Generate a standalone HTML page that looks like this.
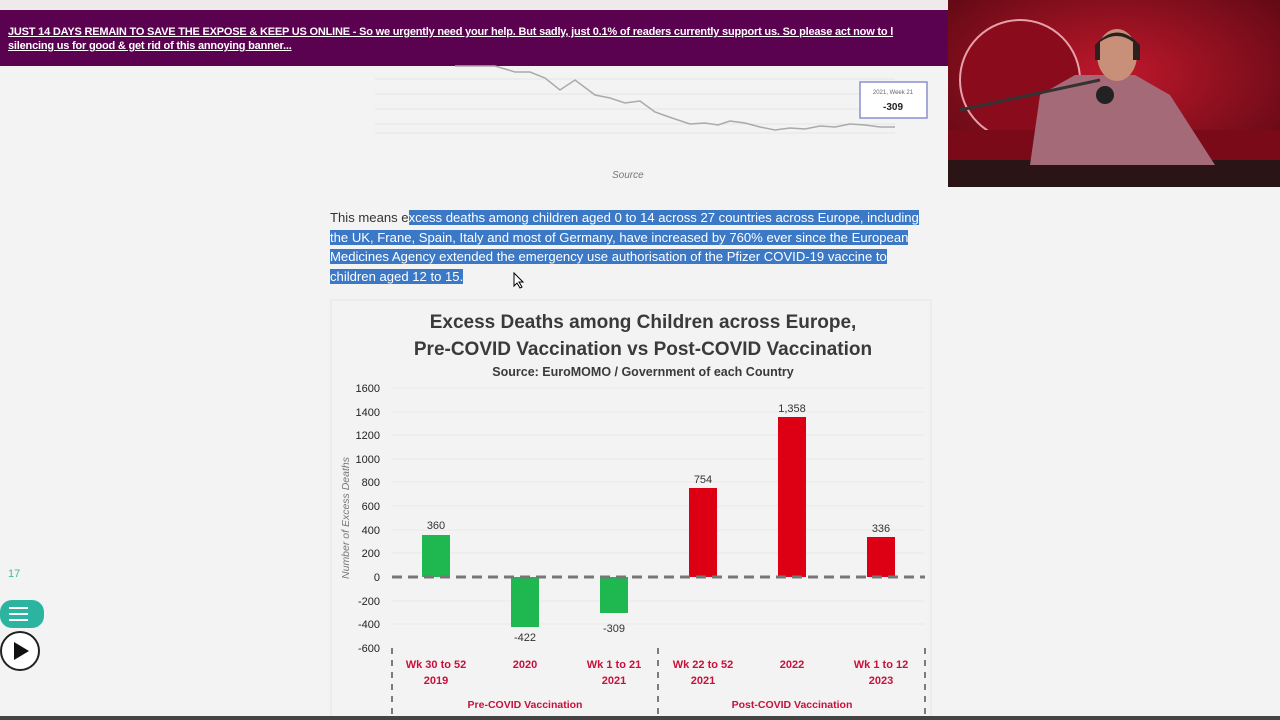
<!DOCTYPE html>
<html><head><meta charset="utf-8"><style>
body{margin:0;width:1280px;height:720px;overflow:hidden;background:#f3f3f3;font-family:"Liberation Sans",sans-serif;position:relative}
.ab{position:absolute}
.p{font-size:13.1px;line-height:19.5px;color:#333;white-space:nowrap}
.h{background:#3b78c6;color:#fff}
</style></head><body>
<div class="ab" style="left:0;top:0;width:948px;height:10px;background:#efe9eb"></div>
<div class="ab" style="left:0;top:10px;width:948px;height:56px;background:#5a0150"></div>
<div class="ab" style="left:8px;top:25px;color:#fff;font-weight:bold;font-size:11px;line-height:14px;text-decoration:underline;white-space:nowrap;letter-spacing:-0.2px">JUST 14 DAYS REMAIN TO SAVE THE EXPOSE &amp; KEEP US ONLINE - So we urgently need your help. But sadly, just 0.1% of readers currently support us. So please act now to l<br>silencing us for good &amp; get rid of this annoying banner...</div>

<svg class="ab" style="left:0;top:0" width="1280" height="720">
 <g stroke="#e4e4e4" stroke-width="1">
  <line x1="375" y1="79" x2="895" y2="79"/><line x1="375" y1="94" x2="895" y2="94"/><line x1="375" y1="109" x2="895" y2="109"/><line x1="375" y1="124" x2="895" y2="124"/><line x1="375" y1="133" x2="895" y2="133"/>
 </g>
 <polyline fill="none" stroke="#aaa" stroke-width="1.5" points="455,66 495,66 515,72 530,72 545,78 560,90 575,80 595,95 610,98 625,103 640,101 655,112 672,118 690,124 705,123 718,125 730,121 745,123 760,127 775,130 790,128 805,129 820,126 835,127 850,124 865,125 880,127 895,127"/>
 <text x="612" y="178" font-size="10" fill="#777" font-style="italic">Source</text>
 <rect x="860" y="82" width="67" height="36" fill="#fff" stroke="#8a8fd0" stroke-width="1.5"/>
 <text x="893" y="94" font-size="6" fill="#666" text-anchor="middle">2021, Week 21</text>
 <text x="893" y="110" font-size="10" fill="#222" text-anchor="middle" font-weight="bold">-309</text>

 <rect x="331" y="300" width="600" height="430" fill="#f3f3f3" stroke="#e6e6e6"/>
 <text x="643" y="328" font-size="19" font-weight="bold" fill="#3a3a3a" text-anchor="middle">Excess Deaths among Children across Europe,</text>
 <text x="643" y="355" font-size="19" font-weight="bold" fill="#3a3a3a" text-anchor="middle">Pre-COVID Vaccination vs Post-COVID Vaccination</text>
 <text x="643" y="376" font-size="12.5" font-weight="bold" fill="#3a3a3a" text-anchor="middle">Source: EuroMOMO / Government of each Country</text>
 <g stroke="#e8e8e8">
  <line x1="392" y1="388" x2="925" y2="388"/><line x1="392" y1="412" x2="925" y2="412"/><line x1="392" y1="435" x2="925" y2="435"/><line x1="392" y1="459" x2="925" y2="459"/><line x1="392" y1="482" x2="925" y2="482"/><line x1="392" y1="506" x2="925" y2="506"/><line x1="392" y1="530" x2="925" y2="530"/><line x1="392" y1="553" x2="925" y2="553"/><line x1="392" y1="601" x2="925" y2="601"/><line x1="392" y1="624" x2="925" y2="624"/>
 </g>
 <g font-size="11" fill="#222" text-anchor="end">
  <text x="380" y="392">1600</text><text x="380" y="416">1400</text><text x="380" y="439">1200</text><text x="380" y="463">1000</text><text x="380" y="486">800</text><text x="380" y="510">600</text><text x="380" y="534">400</text><text x="380" y="557">200</text><text x="380" y="581">0</text><text x="380" y="605">-200</text><text x="380" y="628">-400</text><text x="380" y="652">-600</text>
 </g>
 <text transform="translate(349,518) rotate(-90)" font-size="10.5" font-style="italic" fill="#777" text-anchor="middle">Number of Excess Deaths</text>
 <g fill="#1fb850">
  <rect x="422" y="535" width="28" height="42"/><rect x="511" y="577" width="28" height="50"/><rect x="600" y="577" width="28" height="36"/>
 </g>
 <g fill="#dd0015">
  <rect x="689" y="488" width="28" height="89"/><rect x="778" y="417" width="28" height="160"/><rect x="867" y="537" width="28" height="40"/>
 </g>
 <line x1="392" y1="577" x2="925" y2="577" stroke="#777" stroke-width="3" stroke-dasharray="10,6"/>
 <g font-size="11" fill="#333" text-anchor="middle">
  <text x="436" y="529">360</text><text x="525" y="641">-422</text><text x="614" y="632">-309</text><text x="703" y="483">754</text><text x="792" y="412">1,358</text><text x="881" y="532">336</text>
 </g>
 <g font-size="11" fill="#c8103a" font-weight="bold" text-anchor="middle">
  <text x="436" y="668">Wk 30 to 52</text><text x="436" y="684">2019</text>
  <text x="525" y="668">2020</text>
  <text x="614" y="668">Wk 1 to 21</text><text x="614" y="684">2021</text>
  <text x="703" y="668">Wk 22 to 52</text><text x="703" y="684">2021</text>
  <text x="792" y="668">2022</text>
  <text x="881" y="668">Wk 1 to 12</text><text x="881" y="684">2023</text>
  <text x="525" y="708" font-size="10.5">Pre-COVID Vaccination</text>
  <text x="792" y="708" font-size="10.5">Post-COVID Vaccination</text>
 </g>
 <g stroke="#555" stroke-width="1.5" stroke-dasharray="6,6">
  <line x1="392" y1="648" x2="392" y2="716"/><line x1="658" y1="648" x2="658" y2="716"/><line x1="925" y1="648" x2="925" y2="716"/>
 </g>
 <rect x="0" y="716" width="1280" height="4" fill="#444"/>
 <path d="M514,273 L514,286 L517,283 L520,288 L522,287 L519,282 L523,282 Z" fill="#fff" stroke="#000" stroke-width="1"/>
 <text x="8" y="577" font-size="11" fill="#3cc0a0">17</text>
 <rect x="0" y="600" width="44" height="28" rx="12" fill="#2bb5a0"/>
 <g stroke="#fff" stroke-width="2"><line x1="9" y1="608" x2="28" y2="608"/><line x1="9" y1="614" x2="28" y2="614"/><line x1="9" y1="620" x2="28" y2="620"/></g>
 <circle cx="20" cy="651" r="19" fill="#fff" stroke="#222" stroke-width="2"/>
 <path d="M14,642 L29,651 L14,660 Z" fill="#111"/>
 <defs><radialGradient id="bg" cx="0.5" cy="0.4" r="0.7"><stop offset="0" stop-color="#c0182c"/><stop offset="1" stop-color="#5a0812"/></radialGradient></defs>
 <rect x="948" y="0" width="332" height="187" fill="url(#bg)"/>
 <ellipse cx="1020" cy="80" rx="60" ry="60" fill="#8a0c1c" stroke="#e6a0a8" stroke-width="2"/>
 <rect x="948" y="130" width="332" height="30" fill="#7a0a18"/>
 <rect x="948" y="160" width="332" height="27" fill="#2a1416"/>
 <path d="M1030,165 L1040,95 L1075,75 L1135,75 L1170,95 L1215,165 Z" fill="#a46a78"/>
 <ellipse cx="1117" cy="55" rx="20" ry="26" fill="#c89078"/>
 <path d="M1095,45 Q1117,20 1140,45 L1140,60 L1133,60 L1133,42 Q1117,30 1100,42 L1100,60 L1095,60 Z" fill="#2a2020"/>
 <circle cx="1105" cy="95" r="9" fill="#222"/>
 <line x1="960" y1="110" x2="1100" y2="80" stroke="#333" stroke-width="3"/>
</svg>

<div class="ab p" style="left:330px;top:208px">This means e<span class="h">xcess deaths among children aged 0 to 14 across 27 countries across Europe, including</span><br><span class="h">the UK, Frane, Spain, Italy and most of Germany, have increased by 760% ever since the European </span><br><span class="h">Medicines Agency extended the emergency use authorisation of the Pfizer COVID-19 vaccine to </span><br><span class="h">children aged 12 to 15.</span></div>
</body></html>
